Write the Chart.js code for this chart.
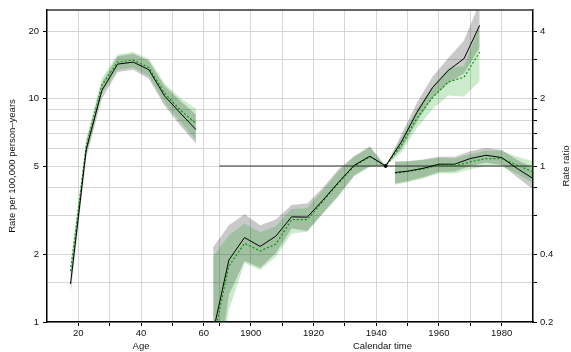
<!DOCTYPE html>
<html>
<head>
<meta charset="utf-8">
<script src="https://cdn.jsdelivr.net/npm/chart.js@4.4.0/dist/chart.umd.min.js"></script>
<style>
  html, body { margin: 0; padding: 0; background: #fff; }
  canvas { display: block; }
</style>
</head>
<body>
<canvas id="apcChart" width="571" height="352"></canvas>
<script>
/* =========================
   DATA
========================= */
// age part is drawn on the same x axis as calendar time, shifted
const AGE_SHIFT = 1825;

const ageMid     = [17.5, 22.5, 27.5, 32.5, 37.5, 42.5, 47.5, 52.5, 57.5];
const ageRate    = [1.48, 5.9, 10.9, 14.3, 14.6, 13.5, 10.3, 8.64, 7.28];
const ageRateLo  = [1.33, 5.45, 10.0, 13.2, 13.5, 12.3, 9.3, 7.6, 6.3];
const ageRateHi  = [1.63, 6.4, 11.8, 15.5, 15.9, 14.8, 11.4, 9.8, 8.5];
const ageRate2   = [1.69, 6.1, 11.5, 14.6, 14.9, 13.8, 10.6, 8.9, 7.75];
const ageRate2Lo = [1.55, 5.6, 10.6, 13.5, 13.8, 12.6, 9.6, 7.9, 6.5];
const ageRate2Hi = [1.84, 6.6, 12.4, 15.8, 16.2, 15.1, 11.7, 10.1, 9.0];

const cohortYear  = [1888, 1893, 1898, 1903, 1908, 1913, 1918, 1923, 1928, 1933, 1938, 1943, 1948, 1953, 1958, 1963, 1968, 1973];
const cohortRR    = [0.181, 0.379, 0.478, 0.436, 0.485, 0.592, 0.590, 0.703, 0.846, 1.008, 1.106, 1, 1.28, 1.74, 2.25, 2.68, 3.03, 4.27];
const cohortRRLo  = [0.084, 0.264, 0.375, 0.350, 0.408, 0.525, 0.512, 0.615, 0.74, 0.91, 1.0, 1, 1.19, 1.58, 2.02, 2.35, 2.6, 3.4];
const cohortRRHi  = [0.433, 0.543, 0.608, 0.543, 0.576, 0.668, 0.679, 0.80, 0.967, 1.11, 1.226, 1, 1.38, 1.92, 2.52, 3.05, 3.65, 5.4];
const cohortRR2   = [0.166, 0.356, 0.45, 0.416, 0.447, 0.575, 0.575, 0.695, 0.84, 1.0, 1.10, 1, 1.24, 1.64, 2.03, 2.38, 2.50, 3.24];
const cohortRR2Lo = [0.07, 0.226, 0.368, 0.342, 0.392, 0.499, 0.507, 0.61, 0.73, 0.90, 0.99, 1, 1.15, 1.48, 1.80, 2.07, 2.05, 2.4];
const cohortRR2Hi = [0.392, 0.49, 0.553, 0.505, 0.538, 0.641, 0.648, 0.78, 0.95, 1.10, 1.21, 1, 1.33, 1.80, 2.28, 2.75, 2.8, 4.3];

const periodYear  = [1946, 1950, 1955, 1960, 1965, 1970, 1975, 1980, 1985, 1990];
const periodRR    = [0.935, 0.948, 0.977, 1.019, 1.019, 1.08, 1.117, 1.091, 0.974, 0.879];
const periodRRLo  = [0.835, 0.855, 0.89, 0.94, 0.945, 1.0, 1.035, 1.01, 0.89, 0.785];
const periodRRHi  = [1.047, 1.05, 1.07, 1.10, 1.10, 1.165, 1.205, 1.18, 1.065, 0.985];
const periodRR2   = [0.93, 0.945, 0.97, 1.008, 1.0, 1.043, 1.08, 1.08, 1.008, 0.941];
const periodRR2Lo = [0.825, 0.845, 0.88, 0.925, 0.925, 0.965, 1.0, 1.0, 0.92, 0.84];
const periodRR2Hi = [1.045, 1.05, 1.065, 1.09, 1.08, 1.13, 1.17, 1.17, 1.10, 1.05];

const refYear = 1943;
const refLineYears = [1890, 1990];

// ticks
const ageTicks = [20, 30, 40, 50, 60];
const ageLabelled = [20, 40, 60];
const calTicks = [1890, 1900, 1910, 1920, 1930, 1940, 1950, 1960, 1970, 1980];
const calLabelled = [1900, 1920, 1940, 1960, 1980];
const rateTicks = [1, 1.5, 2, 3, 4, 5, 6, 7, 8, 9, 10, 15, 20];
const rateLabelled = [1, 2, 5, 10, 20];
const ratioTicks = [0.2, 0.3, 0.4, 0.6, 0.8, 1, 1.2, 1.4, 1.6, 1.8, 2, 3, 4];
const ratioLabelled = [0.2, 0.4, 1, 2, 4];

/* =========================
   HELPERS
========================= */
const FONT = '"Liberation Sans", Arial, sans-serif';
const GRAY_BAND = "rgba(0,0,0,0.21)";
const GREEN_BAND = "rgba(0,153,0,0.2)";
const GREEN_LINE = "#009a00";

function pts(xs, ys, shift) {
    return xs.map((x, i) => ({ x: x + shift, y: ys[i] }));
}

function line(data, axis, color, dash) {
    return {
        data: data, yAxisID: axis,
        borderColor: color, borderWidth: dash ? 1.2 : 1,
        borderDash: dash || [], pointRadius: 0, fill: false, tension: 0
    };
}

// two datasets: lower edge, then upper edge filled down to it
function band(xs, lo, hi, shift, axis, color) {
    return [
        { data: pts(xs, lo, shift), yAxisID: axis, borderWidth: 0, pointRadius: 0, fill: false },
        { data: pts(xs, hi, shift), yAxisID: axis, borderWidth: 0, pointRadius: 0, fill: "-1", backgroundColor: color }
    ];
}

const xGrid = ageTicks.map(a => a + AGE_SHIFT).concat(calTicks);

function xLabel(v) {
    const age = v - AGE_SHIFT;
    if (ageLabelled.includes(age)) return String(age);
    if (calLabelled.includes(v)) return String(v);
    return "";
}

/* =========================
   DATASETS (first one is drawn on top)
========================= */
const datasets = [
    {
        data: [{ x: refYear, y: 1 }], yAxisID: "y2", showLine: false,
        pointRadius: 1.5, pointBackgroundColor: "#000", pointBorderColor: "#000"
    },
    line(pts(ageMid, ageRate, AGE_SHIFT), "y", "#000"),
    line(pts(ageMid, ageRate2, AGE_SHIFT), "y", GREEN_LINE, [2, 2]),
    line(pts(cohortYear, cohortRR, 0), "y2", "#000"),
    line(pts(cohortYear, cohortRR2, 0), "y2", GREEN_LINE, [2, 2]),
    line(pts(periodYear, periodRR, 0), "y2", "#000"),
    line(pts(periodYear, periodRR2, 0), "y2", GREEN_LINE, [2, 2]),
    line(refLineYears.map(x => ({ x: x, y: 1 })), "y2", "#333"),
    ...band(ageMid, ageRate2Lo, ageRate2Hi, AGE_SHIFT, "y", GREEN_BAND),
    ...band(cohortYear, cohortRR2Lo, cohortRR2Hi, 0, "y2", GREEN_BAND),
    ...band(periodYear, periodRR2Lo, periodRR2Hi, 0, "y2", GREEN_BAND),
    ...band(ageMid, ageRateLo, ageRateHi, AGE_SHIFT, "y", GRAY_BAND),
    ...band(cohortYear, cohortRRLo, cohortRRHi, 0, "y2", GRAY_BAND),
    ...band(periodYear, periodRRLo, periodRRHi, 0, "y2", GRAY_BAND)
];

/* =========================
   TITLES + TOP FRAME
========================= */
const frameAndTitles = {
    id: "frameAndTitles",
    afterDraw(chart) {
        const ctx = chart.ctx;
        const a = chart.chartArea;
        const x = chart.scales.x;

        ctx.save();
        ctx.strokeStyle = "#333";
        ctx.lineWidth = 1.5;
        ctx.beginPath();
        ctx.moveTo(a.left, a.top);
        ctx.lineTo(a.right, a.top);
        ctx.stroke();

        ctx.fillStyle = "#111";
        ctx.font = "9.5px " + FONT;
        ctx.textAlign = "center";
        ctx.textBaseline = "middle";
        ctx.fillText("Age", x.getPixelForValue(40 + AGE_SHIFT), 346);
        ctx.fillText("Calendar time", x.getPixelForValue(1942), 346);

        const mid = (a.top + a.bottom) / 2;
        ctx.translate(12, mid);
        ctx.rotate(-Math.PI / 2);
        ctx.fillText("Rate per 100,000 person\u2013years", 0, 0);
        ctx.rotate(Math.PI / 2);
        ctx.translate(566 - 12, 0);
        ctx.rotate(-Math.PI / 2);
        ctx.fillText("Rate ratio", 0, 0);
        ctx.restore();
    }
};

Chart.defaults.font.family = FONT;
Chart.defaults.font.size = 9.5;
Chart.defaults.color = "#111";

new Chart(document.getElementById("apcChart"), {
    type: "line",
    data: { datasets: datasets },
    plugins: [frameAndTitles],
    options: {
        responsive: false,
        animation: false,
        devicePixelRatio: 1,
        layout: { padding: { top: 10, left: 0, right: 0, bottom: 0 } },
        plugins: { legend: { display: false }, tooltip: { enabled: false } },
        scales: {
            x: {
                type: "linear", min: 1835, max: 1990, bounds: "data",
                afterBuildTicks: s => { s.ticks = xGrid.map(v => ({ value: v })); },
                afterFit: s => { s.height = 30; },
                ticks: { autoSkip: false, maxRotation: 0, padding: 2, callback: v => xLabel(v) },
                grid: { color: "#d6d6d6", lineWidth: 1, tickLength: 4, tickColor: "#000" },
                border: { color: "#000", width: 1.5 }
            },
            y: {
                type: "logarithmic", position: "left", min: 1, max: 25, bounds: "data",
                afterBuildTicks: s => { s.ticks = rateTicks.map(v => ({ value: v })); },
                afterFit: s => { s.width = 47; },
                ticks: { autoSkip: false, padding: 4, callback: v => rateLabelled.includes(v) ? String(v) : "" },
                grid: {
                    color: "#d6d6d6", lineWidth: 1, tickLength: 4,
                    tickColor: c => (c.tick && rateLabelled.includes(c.tick.value)) ? "#000" : "rgba(0,0,0,0)"
                },
                border: { color: "#000", width: 1.5 }
            },
            y2: {
                type: "logarithmic", position: "right", min: 0.2, max: 5, bounds: "data",
                afterBuildTicks: s => { s.ticks = ratioTicks.map(v => ({ value: v })); },
                afterFit: s => { s.width = 38; },
                ticks: { autoSkip: false, padding: 3, callback: v => ratioLabelled.includes(v) ? String(v) : "" },
                grid: { drawOnChartArea: false, tickLength: 4, tickColor: "#000" },
                border: { color: "#000", width: 1.5 }
            }
        }
    }
});
</script>
</body>
</html>
